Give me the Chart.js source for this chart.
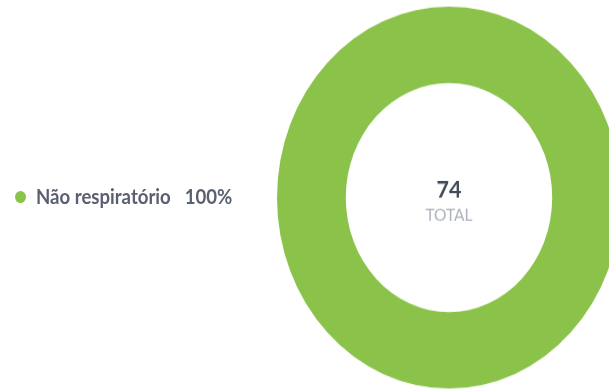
<!DOCTYPE html>
<html>
<head>
<meta charset="utf-8">
<script src="https://cdn.jsdelivr.net/npm/chart.js@4"></script>
<style>
  html, body { margin: 0; padding: 0; background: #fff; }
  body { width: 609px; height: 389px; overflow: hidden; position: relative; font-family: Lato, "Open Sans", sans-serif; }
  /* the whole panel is drawn a bit taller than wide */
  #stage { position: absolute; left: 0; top: 0; width: 640px; height: 355px; transform: scaleY(1.11); transform-origin: 0 0; }
  #ring { position: absolute; left: 277px; top: 5.5px; width: 344px; height: 344px; }
  #legend { position: absolute; left: 15px; top: 177px; transform: translateY(-50%); }
  .leg-row { display: flex; align-items: center; font-size: 18.6px; font-weight: bold; color: #596070; white-space: nowrap; }
  .leg-dot { width: 11px; height: 11px; border-radius: 50%; margin-right: 10px; }
  .leg-pct { margin-left: 14px; }
</style>
</head>
<body>
<div id="stage">
  <div id="legend"></div>
  <div id="ring"><canvas id="chartCanvas"></canvas></div>
</div>
<script>
const categories = ['Não respiratório'];
const counts = [74];
const colors = ['#8bc34a'];
const centerCaption = 'TOTAL';

const total = counts.reduce((a, b) => a + b, 0);

// legenda lateral
const legendEl = document.getElementById('legend');
categories.forEach((name, i) => {
    const pct = Math.round(counts[i] / total * 100);
    const row = document.createElement('div');
    row.className = 'leg-row';
    row.innerHTML = '<span class="leg-dot" style="background:' + colors[i] + '"></span>' +
        '<span>' + name + '</span><span class="leg-pct">' + pct + '%</span>';
    legendEl.appendChild(row);
});

// texto no centro do anel
const centerText = {
    id: 'centerText',
    afterDraw(chart) {
        const meta = chart.getDatasetMeta(0);
        if (!meta.data.length) return;
        const { x, y } = meta.data[0];
        const ctx = chart.ctx;
        ctx.save();
        ctx.textAlign = 'center';
        ctx.textBaseline = 'middle';
        ctx.fillStyle = '#434a59';
        ctx.font = 'bold 21.5px Lato, sans-serif';
        ctx.fillText(String(total), x, y - 7);
        ctx.fillStyle = '#aeb2ba';
        ctx.font = '15.5px Lato, sans-serif';
        ctx.fillText(centerCaption, x, y + 15.5);
        ctx.restore();
    }
};

new Chart(document.getElementById('chartCanvas'), {
    type: 'doughnut',
    data: {
        labels: categories,
        datasets: [{
            data: counts,
            backgroundColor: colors,
            borderWidth: 0
        }]
    },
    options: {
        responsive: true,
        maintainAspectRatio: false,
        animation: false,
        cutout: '60%',
        layout: { padding: 0 },
        plugins: {
            legend: { display: false },
            tooltip: { enabled: false }
        }
    },
    plugins: [centerText]
});
</script>
</body>
</html>
